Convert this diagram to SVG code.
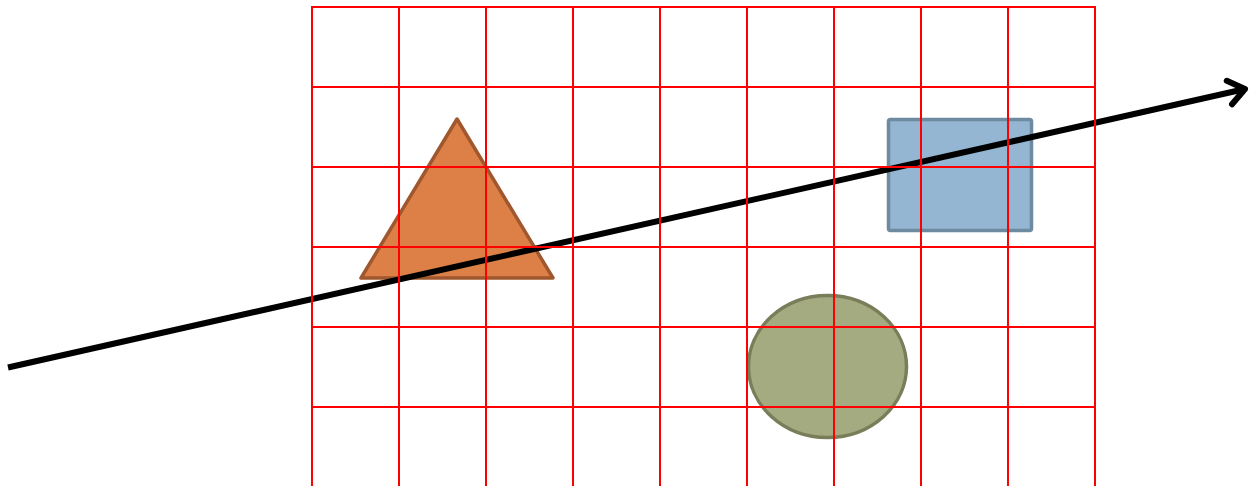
<svg xmlns="http://www.w3.org/2000/svg" width="1250" height="486" viewBox="0 0 1250 486">
  <style>
    .grid line { stroke: #FF0000; stroke-width: 2; }
    .shape { stroke-width: 3.5; stroke-linejoin: round; }
    .arrow { stroke: #000; stroke-width: 6; fill: none; }
  </style>
  <defs>
    <marker id="chev" markerUnits="userSpaceOnUse" orient="auto" markerWidth="40" markerHeight="40" refX="0" refY="0" viewBox="-20 -20 40 40" overflow="visible">
      <path d="M-16,-12 L0,0 L-16,12" fill="none" stroke="#000" stroke-width="6" stroke-linecap="round" stroke-linejoin="round"/>
    </marker>
  </defs>
  <rect width="1250" height="486" fill="#FFFFFF"/>
  <g id="triangle">
    <polygon class="shape" points="457,119 361,278 553,278" fill="#DD8047" stroke="#A0572E"/>
  </g>
  <g id="rectangle">
    <rect class="shape" x="888.5" y="119.5" width="143" height="111" rx="2" fill="#94B6D2" stroke="#6E8AA0"/>
  </g>
  <g id="ellipse">
    <ellipse class="shape" cx="827.5" cy="366.5" rx="79" ry="71" fill="#A5AB81" stroke="#7A7D5A"/>
  </g>
  <g id="connectors">
    <line class="arrow" x1="8" y1="367.5" x2="1245" y2="89" marker-end="url(#chev)"/>
  </g>
  <g id="grid" class="grid">
    <line x1="312" y1="7" x2="312" y2="486"/>
    <line x1="399" y1="7" x2="399" y2="486"/>
    <line x1="486" y1="7" x2="486" y2="486"/>
    <line x1="573" y1="7" x2="573" y2="486"/>
    <line x1="660" y1="7" x2="660" y2="486"/>
    <line x1="747" y1="7" x2="747" y2="486"/>
    <line x1="834" y1="7" x2="834" y2="486"/>
    <line x1="921" y1="7" x2="921" y2="486"/>
    <line x1="1008" y1="7" x2="1008" y2="486"/>
    <line x1="1095" y1="7" x2="1095" y2="486"/>
    <line x1="311" y1="7" x2="1096" y2="7"/>
    <line x1="311" y1="87" x2="1096" y2="87"/>
    <line x1="311" y1="167" x2="1096" y2="167"/>
    <line x1="311" y1="247" x2="1096" y2="247"/>
    <line x1="311" y1="327" x2="1096" y2="327"/>
    <line x1="311" y1="407" x2="1096" y2="407"/>
  </g>
</svg>
